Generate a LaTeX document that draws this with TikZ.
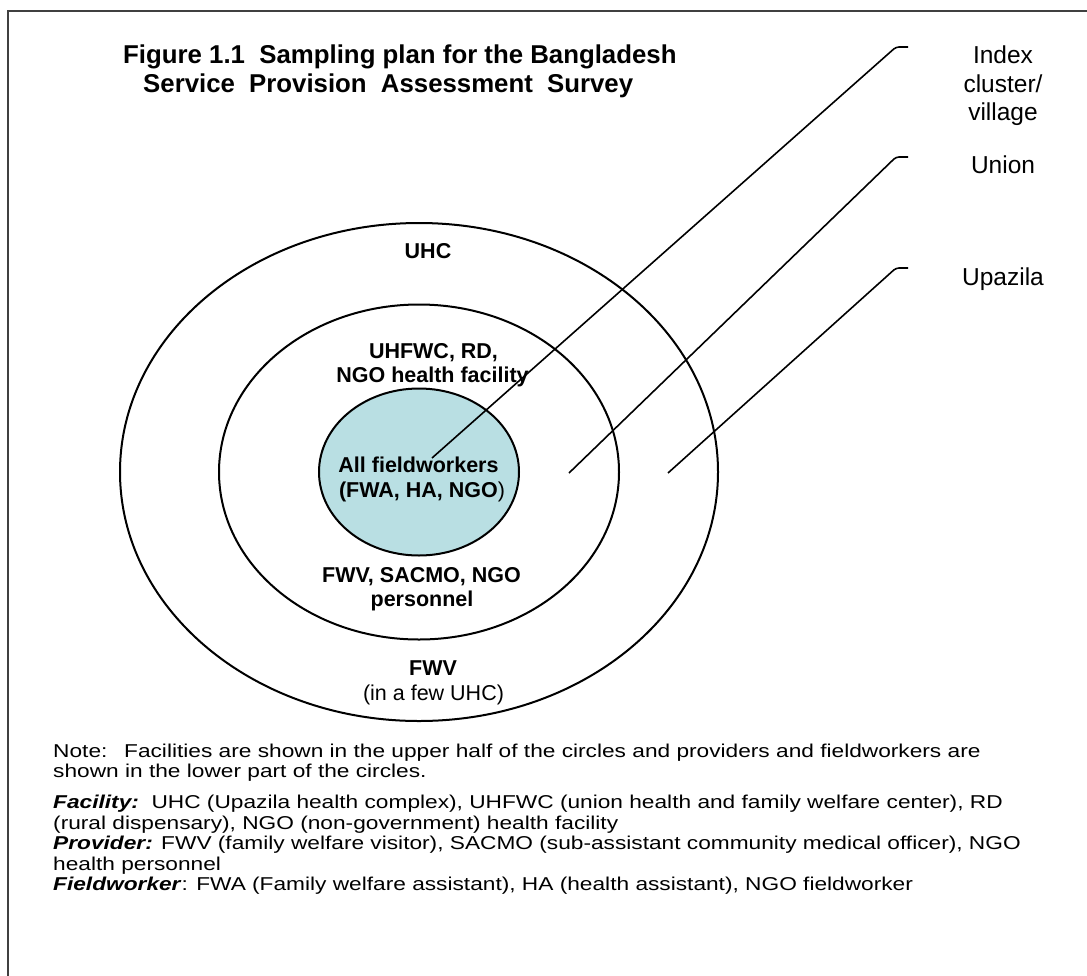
\documentclass[tikz,border=0pt]{standalone}
\usepackage{fontspec}
\setmainfont{Liberation Sans}
\newfontfamily\notefont[FakeStretch=1.22]{Liberation Sans}
\usetikzlibrary{shapes.geometric}
\definecolor{innerfill}{RGB}{185,223,227}
\definecolor{framegray}{RGB}{64,64,64}
\tikzset{
  ring/.style={ellipse, draw, line width=2pt, inner sep=0pt, outer sep=0pt},
  clab/.style={anchor=base, inner sep=0pt, font=\fontsize{21.5}{24}\selectfont\bfseries},
  clabr/.style={anchor=base, inner sep=0pt, font=\fontsize{21.5}{24}\selectfont},
  rlab/.style={anchor=base, inner sep=0pt, font=\fontsize{24.5}{29}\selectfont},
  ttl/.style={anchor=base west, inner sep=0pt, font=\fontsize{25.8}{29}\selectfont\bfseries},
  note/.style={anchor=base west, inner sep=0pt, font=\notefont\fontsize{18.6}{20.6}\selectfont},
  leader/.style={line width=1.6pt, rounded corners=3pt},
  frameline/.style={draw=framegray, line width=2.5pt}
}
\begin{document}
\begin{tikzpicture}[x=1pt,y=-1pt]
\useasboundingbox (0,0) rectangle (1087,975);
% frame
\draw[frameline] (8,976) -- (8,11) -- (1088,11);
% title
\node[ttl] (t1) at (123,63) {Figure 1.1\ \ Sampling plan for the Bangladesh};
\node[ttl] (t2) at (143,92) {Service\hspace{0.55em}Provision\hspace{0.55em}Assessment\hspace{0.55em}Survey};
% rings
\node[ring, minimum width=598pt, minimum height=498pt] (outer) at (419,472) {};
\node[ring, minimum width=400pt, minimum height=335pt] (middle) at (419,472) {};
\node[ring, fill=innerfill, minimum width=200pt, minimum height=167pt] (inner) at (419,472) {};
% ring labels
\node[clab] (uhc) at (428,258) {UHC};
\node[clab] (fac1) at (433.5,358) {UHFWC, RD,};
\node[clab] (fac2) at (432.5,382) {NGO health facility};
\node[clab] (fw1) at (418.5,472) {All fieldworkers};
\node[clab] (fw2) at (422,497) {(FWA, HA, NGO\textmd{)}};
\node[clab] (pr1) at (421.5,582) {FWV, SACMO, NGO};
\node[clab] (pr2) at (422,606) {personnel};
\node[clab] (fwv) at (433,675) {FWV};
\node[clabr] (few) at (433.5,700) {(in a few UHC)};
% right labels
\node[rlab] (idx1) at (1003,63) {Index};
\node[rlab] (idx2) at (1003,92) {cluster/};
\node[rlab] (idx3) at (1003,120) {village};
\node[rlab] (uni) at (1003,173) {Union};
\node[rlab] (upa) at (1003,285) {Upazila};
% leader lines
\coordinate (sI) at (432,458);
\coordinate (cI) at (896,47);
\coordinate (eI) at (908,47);
\coordinate (sU) at (569,473);
\coordinate (cU) at (896,157);
\coordinate (eU) at (908,157);
\coordinate (sP) at (668,473);
\coordinate (cP) at (896,268);
\coordinate (eP) at (908,268);
\draw[leader] (sI) -- (cI) -- (eI);
\draw[leader] (sU) -- (cU) -- (eU);
\draw[leader] (sP) -- (cP) -- (eP);
% notes
\node[note] (n1) at (53,757) {Note:\hspace{0.9em}Facilities are shown in the upper half of the circles and providers and fieldworkers are};
\node[note] (n2) at (53,777) {shown in the lower part of the circles.};
\node[note] (n3) at (53,808) {\textbf{\textit{Facility:}}\ \ UHC (Upazila health complex), UHFWC (union health and family welfare center), RD};
\node[note] (n4) at (53,829) {(rural dispensary), NGO (non-government) health facility};
\node[note] (n5) at (53,849) {\textbf{\textit{Provider:}} FWV (family welfare visitor), SACMO (sub-assistant community medical officer), NGO};
\node[note] (n6) at (53,870) {health personnel};
\node[note] (n7) at (53,890) {\textbf{\textit{Fieldworker}}: FWA (Family welfare assistant), HA (health assistant), NGO fieldworker};
\end{tikzpicture}
\end{document}
